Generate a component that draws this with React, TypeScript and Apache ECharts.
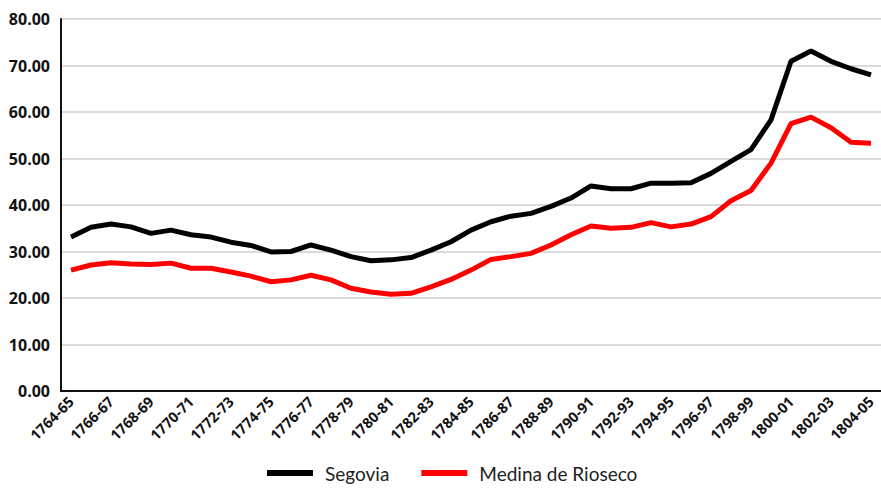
import React, { useEffect, useRef } from "react";
import * as echarts from "echarts";

const categories = [
  "1764-65", "1765-66", "1766-67", "1767-68", "1768-69", "1769-70", "1770-71", "1771-72",
  "1772-73", "1773-74", "1774-75", "1775-76", "1776-77", "1777-78", "1778-79", "1779-80",
  "1780-81", "1781-82", "1782-83", "1783-84", "1784-85", "1785-86", "1786-87", "1787-88",
  "1788-89", "1789-90", "1790-91", "1791-92", "1792-93", "1793-94", "1794-95", "1795-96",
  "1796-97", "1797-98", "1798-99", "1799-00", "1800-01", "1801-02", "1802-03", "1803-04",
  "1804-05",
];

const segovia = [
  33.1, 35.2, 35.9, 35.3, 33.9, 34.6, 33.6, 33.1, 32.0, 31.3,
  29.9, 30.0, 31.4, 30.3, 28.9, 28.0, 28.2, 28.7, 30.3, 32.1,
  34.6, 36.4, 37.6, 38.2, 39.7, 41.5, 44.1, 43.5, 43.5, 44.7,
  44.7, 44.8, 46.8, 49.4, 51.9, 58.3, 70.9, 73.1, 70.9, 69.3,
  68.0,
];

const medina = [
  26.0, 27.1, 27.6, 27.3, 27.2, 27.5, 26.4, 26.4, 25.6, 24.7,
  23.5, 23.9, 24.9, 23.9, 22.1, 21.3, 20.8, 21.0, 22.4, 24.0,
  26.0, 28.3, 28.9, 29.6, 31.4, 33.6, 35.5, 35.0, 35.2, 36.2,
  35.3, 35.9, 37.5, 40.9, 43.1, 49.0, 57.5, 58.9, 56.6, 53.5,
  53.3,
];

const seriesNames = ["Segovia", "Medina de Rioseco"];

export default function App() {
  const ref = useRef<HTMLDivElement>(null);
  useEffect(() => {
    if (!ref.current) return;
    const chart = echarts.init(ref.current, null, { renderer: "svg" });
    chart.setOption({
      animation: false,
      backgroundColor: "#ffffff",
      grid: { left: 61, right: -3, top: 19, bottom: 99, containLabel: false },
      legend: {
        data: seriesNames,
        left: 267,
        top: 462,
        padding: 0,
        icon: "rect",
        itemWidth: 46,
        itemHeight: 6,
        itemGap: 32,
        textStyle: {
          fontFamily: "Lato",
          fontSize: 19,
          lineHeight: 22,
          color: "#222",
          padding: [0, 0, 0, 7],
        },
      },
      xAxis: {
        type: "category",
        data: categories,
        boundaryGap: true,
        axisLine: { lineStyle: { color: "#111", width: 2 } },
        axisTick: { show: false },
        axisLabel: {
          interval: 1,
          rotate: 45,
          margin: 8,
          fontFamily: "Open Sans",
          fontWeight: "bold",
          fontSize: 14.5,
          color: "#111",
        },
      },
      yAxis: {
        type: "value",
        min: 0,
        max: 80,
        interval: 10,
        axisLine: { show: true, lineStyle: { color: "#111", width: 2 } },
        axisTick: { show: false },
        splitLine: { lineStyle: { color: "#cfcfcf", width: 1.5 } },
        axisLabel: {
          margin: 11,
          formatter: (v: number) => v.toFixed(2),
          fontFamily: "Open Sans",
          fontWeight: "bold",
          fontSize: 16,
          color: "#111",
        },
      },
      series: [
        {
          name: seriesNames[0],
          type: "line",
          data: segovia,
          symbol: "none",
          lineStyle: { color: "#000000", width: 5 },
          itemStyle: { color: "#000000" },
        },
        {
          name: seriesNames[1],
          type: "line",
          data: medina,
          symbol: "none",
          lineStyle: { color: "#ff0000", width: 5 },
          itemStyle: { color: "#ff0000" },
        },
      ],
    });
    return () => chart.dispose();
  }, []);
  return (
    <div
      ref={ref}
      style={{ position: "fixed", left: 0, top: 0, width: 881, height: 490, background: "#fff" }}
    />
  );
}
